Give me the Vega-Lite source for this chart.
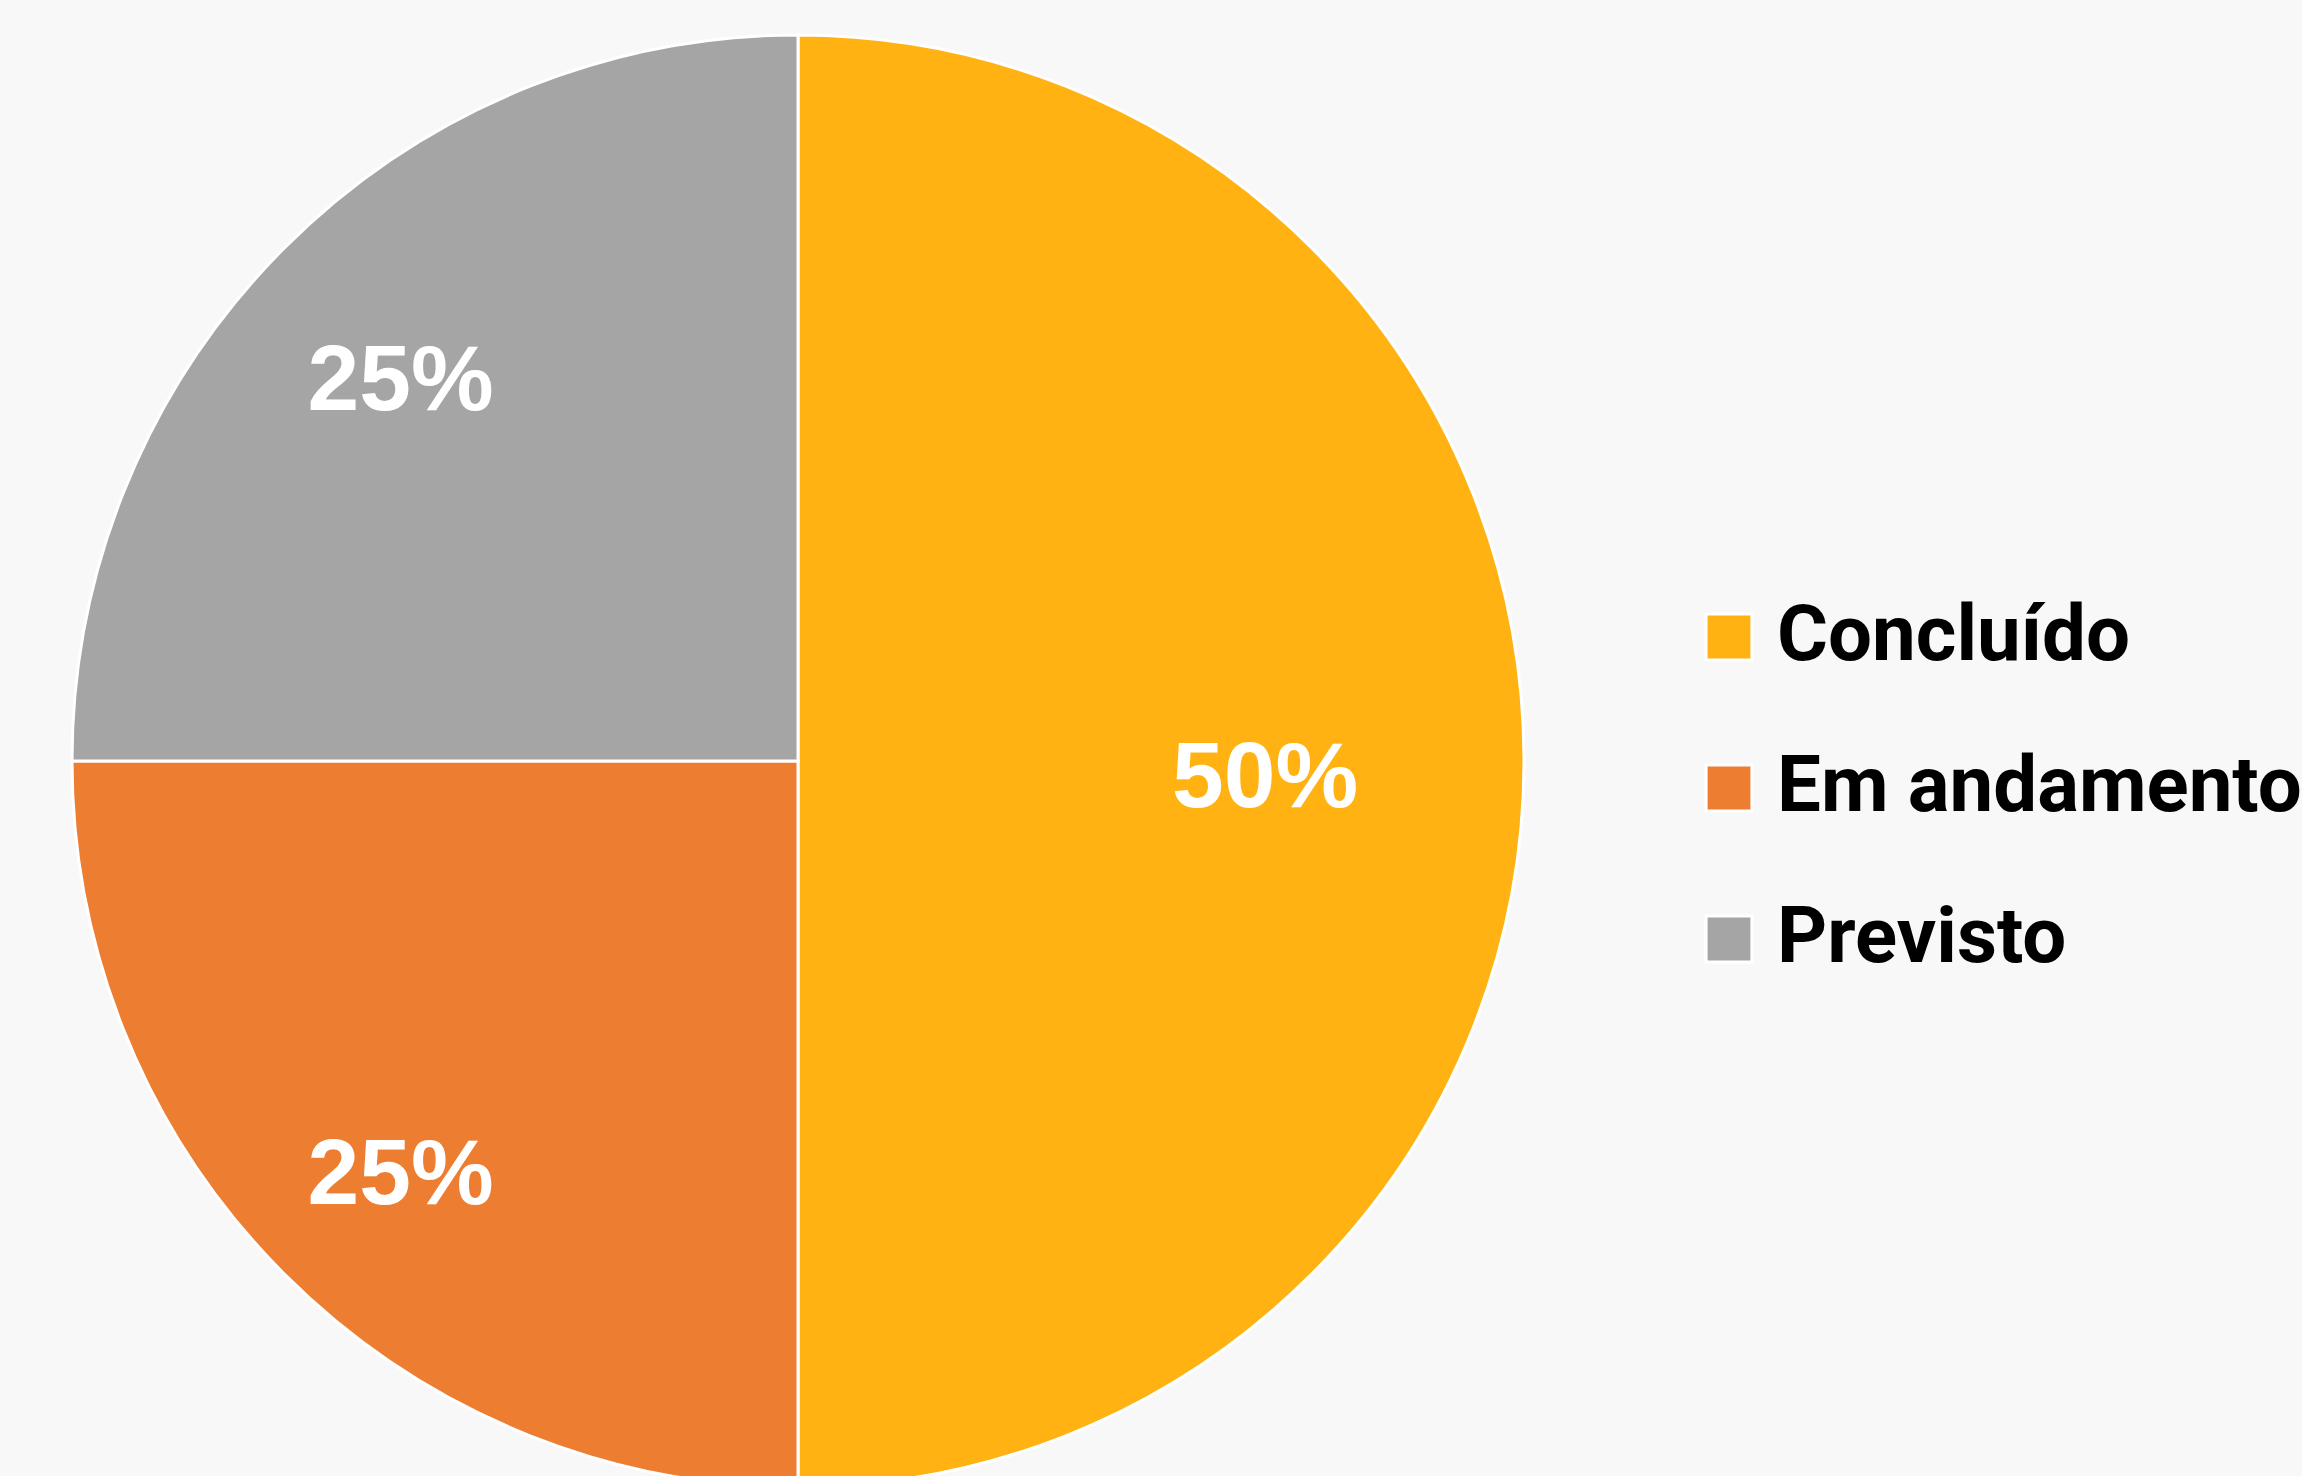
{
  "$schema": "https://vega.github.io/schema/vega-lite/v6.json",
  "width": 1596,
  "height": 1522,
  "padding": 0,
  "autosize": {"type": "pad"},
  "background": "#f8f8f8",
  "view": {"stroke": null},
  "data": {
    "values": [
      {"status": "Concluído", "value": 50, "label": "50%"},
      {"status": "Em andamento", "value": 25, "label": "25%"},
      {"status": "Previsto", "value": 25, "label": "25%"}
    ]
  },
  "encoding": {
    "theta": {"field": "value", "type": "quantitative", "stack": true},
    "order": {"field": "status", "type": "nominal", "sort": "ascending"}
  },
  "layer": [
    {
      "mark": {"type": "arc", "radius": 726, "stroke": "white", "strokeWidth": 3},
      "encoding": {
        "color": {
          "field": "status",
          "type": "nominal",
          "scale": {
            "domain": ["Concluído", "Em andamento", "Previsto"],
            "range": ["#FFB212", "#ED7D31", "#A5A5A5"]
          },
          "legend": {
            "orient": "none",
            "legendX": 1690,
            "legendY": 598,
            "title": null,
            "padding": 0,
            "symbolType": "square",
            "symbolSize": 2100,
            "symbolStrokeColor": "white",
            "symbolStrokeWidth": 3,
            "symbolOpacity": 1,
            "labelFont": "Roboto",
            "labelFontWeight": "bold",
            "labelFontSize": 78,
            "labelColor": "#000000",
            "labelOffset": 9,
            "labelLimit": 0,
            "rowPadding": 73
          }
        }
      }
    },
    {
      "mark": {
        "type": "text",
        "font": "Liberation Sans",
        "fontWeight": "bold",
        "fontSize": 93,
        "fill": "white",
        "align": "center",
        "baseline": "middle",
        "dy": 18
      },
      "encoding": {
        "text": {"field": "label"},
        "radius": {
          "field": "value",
          "type": "quantitative",
          "scale": {"type": "linear", "domain": [25, 50], "range": [562, 467], "zero": false}
        }
      }
    }
  ]
}
